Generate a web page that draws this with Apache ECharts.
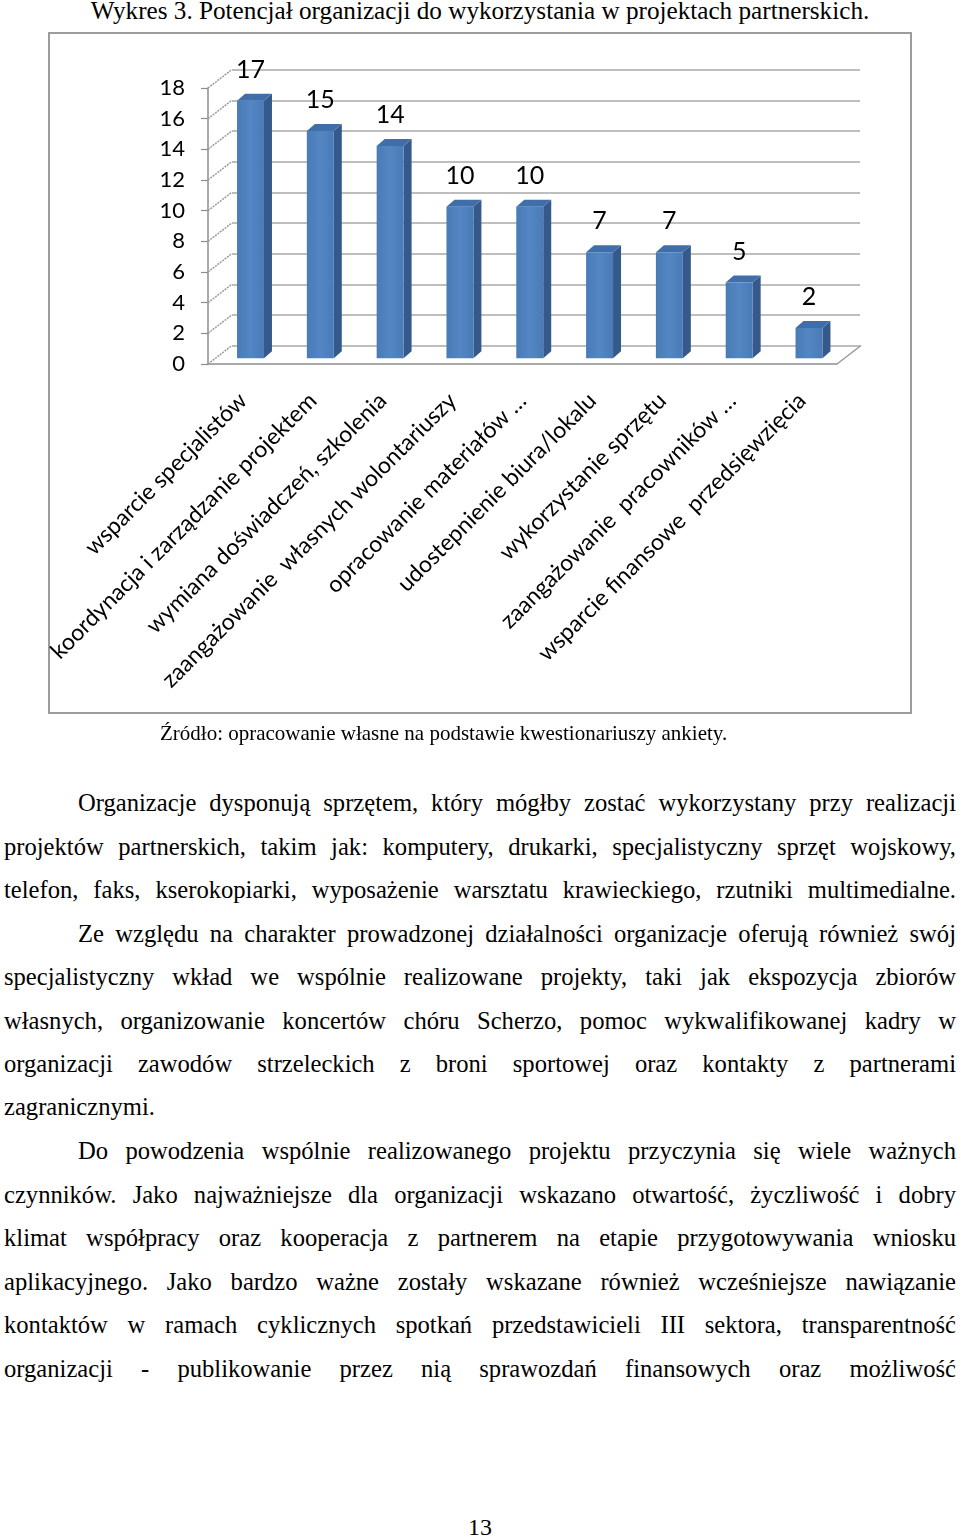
<!DOCTYPE html>
<html lang="pl">
<head>
<meta charset="utf-8">
<script src="https://cdn.jsdelivr.net/npm/echarts/dist/echarts.min.js"></script>
<style>
  html, body { margin: 0; padding: 0; background: #fff; }
  body { width: 960px; height: 1537px; position: relative; overflow: hidden; font-family: "Liberation Serif", "Times New Roman", serif; color: #000; }
  .t { position: absolute; white-space: nowrap; line-height: 30px; }
  .j { position: absolute; line-height: 30px; text-align: justify; text-align-last: justify; font-size: 24.6px; }
  .box { position: absolute; left: 48px; top: 32px; width: 864px; height: 682px; box-sizing: border-box; border: 2px solid #9c9c9c; }
  #chart { position: absolute; left: 0; top: 0; width: 960px; height: 720px; }
</style>
</head>
<body>
<div class="t" id="title" style="left:0; width:960px; top:-4px; text-align:center; font-size:25.2px;">Wykres 3. Potencjał organizacji do wykorzystania w projektach partnerskich.</div>
<div class="box"></div>
<div id="chart"></div>
<div class="t" style="left:160px; top:718px; font-size:21px;">Źródło: opracowanie własne na podstawie kwestionariuszy ankiety.</div>
<div id="text"></div>
<div class="t" style="left:0; width:960px; text-align:center; top:1512px; font-size:24px;">13</div>

<script>
// ---- chart data ----
const categories = [
  'wsparcie specjalistów',
  'koordynacja i zarządzanie projektem',
  'wymiana doświadczeń, szkolenia',
  'zaangażowanie  własnych wolontariuszy',
  'opracowanie materiałów …',
  'udostepnienie biura/lokalu',
  'wykorzystanie sprzętu',
  'zaangażowanie  pracowników …',
  'wsparcie finansowe  przedsięwzięcia'
];
const values = [17, 15, 14, 10, 10, 7, 7, 5, 2];
const yTicks = [0, 2, 4, 6, 8, 10, 12, 14, 16, 18];

// ---- body text lines ----
const textLines = [
  { s: 'Organizacje dysponują sprzętem, który mógłby zostać wykorzystany przy realizacji', indent: true },
  { s: 'projektów partnerskich, takim jak: komputery, drukarki, specjalistyczny sprzęt wojskowy,' },
  { s: 'telefon, faks, kserokopiarki, wyposażenie warsztatu krawieckiego, rzutniki multimedialne.' },
  { s: 'Ze względu na charakter prowadzonej działalności organizacje oferują również swój', indent: true },
  { s: 'specjalistyczny wkład we wspólnie realizowane projekty, taki jak ekspozycja zbiorów' },
  { s: 'własnych, organizowanie koncertów chóru Scherzo, pomoc wykwalifikowanej kadry w' },
  { s: 'organizacji zawodów strzeleckich z broni sportowej oraz kontakty z partnerami' },
  { s: 'zagranicznymi.', last: true },
  { s: 'Do powodzenia wspólnie realizowanego projektu przyczynia się wiele ważnych', indent: true },
  { s: 'czynników. Jako najważniejsze dla organizacji wskazano otwartość, życzliwość i dobry' },
  { s: 'klimat współpracy oraz kooperacja z partnerem na etapie przygotowywania wniosku' },
  { s: 'aplikacyjnego. Jako bardzo ważne zostały wskazane również wcześniejsze nawiązanie' },
  { s: 'kontaktów w ramach cyklicznych spotkań przedstawicieli III sektora, transparentność' },
  { s: 'organizacji - publikowanie przez nią sprawozdań finansowych oraz możliwość' }
];
const lineCenters = [803, 847, 890, 934, 977, 1021, 1064, 1107, 1151, 1195, 1238, 1282, 1325, 1369];

const textHost = document.getElementById('text');
textLines.forEach((ln, i) => {
  const d = document.createElement('div');
  d.className = 'j';
  const left = ln.indent ? 78 : 4;
  d.style.left = left + 'px';
  d.style.width = (956 - left) + 'px';
  d.style.top = (lineCenters[i] - 15) + 'px';
  if (ln.last) { d.style.textAlignLast = 'left'; }
  d.textContent = ln.s;
  textHost.appendChild(d);
  // keep each reference line on one line: tighten if it would wrap
  let ls = 0;
  while (d.offsetHeight > 32 && ls > -1.5) { ls -= 0.1; d.style.letterSpacing = ls + 'px'; }
});

// ---- chart ----
const FONT = 'Lato';
const chart = echarts.init(document.getElementById('chart'), null, { renderer: 'canvas' });
const DEPTH_X = 24, DEPTH_Y = 18.5;

const option = {
  animation: false,
  grid: [
    { left: 232, top: 70, width: 628, height: 275.5 },
    { left: 208, top: 88, width: 629, height: 276 },
    { left: 215.6, top: 85.5, width: 628.3, height: 272.8 }
  ],
  xAxis: [
    { gridIndex: 0, type: 'category', data: categories, show: false },
    {
      gridIndex: 1, type: 'category', data: categories,
      axisLine: { lineStyle: { color: '#8e8e8e', width: 1.5 } },
      axisTick: { length: 7, lineStyle: { color: '#8e8e8e', width: 1.2 } },
      axisLabel: { interval: 0, rotate: 45, fontFamily: FONT, fontSize: 23, color: '#000', margin: 33 }
    },
    { gridIndex: 2, type: 'category', data: categories, show: false }
  ],
  yAxis: [
    {
      gridIndex: 0, type: 'value', min: 0, max: 18, interval: 2,
      axisLabel: { show: false }, axisLine: { show: false }, axisTick: { show: false },
      splitLine: { lineStyle: { color: '#a9a9a9', width: 1.6 } }
    },
    {
      gridIndex: 1, type: 'value', min: 0, max: 18, interval: 2,
      axisLine: { show: true, lineStyle: { color: '#8e8e8e', width: 1.5 } },
      axisTick: { show: true, length: 7, lineStyle: { color: '#8e8e8e', width: 1.2 } },
      axisLabel: { fontFamily: FONT, fontSize: 22, color: '#000', margin: 23, padding: [6, 0, 0, 0] },
      splitLine: { show: false }
    },
    { gridIndex: 2, type: 'value', min: 0, max: 18, interval: 2, show: false, splitLine: { show: false } }
  ],
  series: [
    {
      type: 'custom', name: 'sideWall', xAxisIndex: 1, yAxisIndex: 1, silent: true, z: 1,
      data: yTicks.map(v => [0, v]),
      renderItem(params, api) {
        const v = api.value(1);
        const p = api.coord([0, v]);
        const half = api.size([1, 0])[0] / 2;
        const x = p[0] - half, y = p[1];
        const st = { stroke: '#9a9a9a', lineWidth: 1.5, lineDash: [2, 1] };
        const children = [{ type: 'line', shape: { x1: x, y1: y, x2: x + DEPTH_X, y2: y - DEPTH_Y }, style: st }];
        if (v === 0) {
          const xr = api.coord([categories.length - 1, 0])[0] + half;
          children.push({ type: 'line', shape: { x1: xr, y1: y, x2: xr + DEPTH_X, y2: y - DEPTH_Y }, style: { stroke: '#9a9a9a', lineWidth: 1.5 } });
        }
        return { type: 'group', children };
      }
    },
    {
      type: 'custom', name: 'bars', xAxisIndex: 2, yAxisIndex: 2, silent: true, z: 5,
      data: values.map((v, i) => [i, v]),
      renderItem(params, api) {
        const i = api.value(0), v = api.value(1);
        const top = api.coord([i, v]);
        const base = api.coord([i, 0]);
        const bw = api.size([1, 0])[0] * 0.386;
        const dx = 8, dy = 7;
        const x0 = top[0] - bw / 2, x1 = top[0] + bw / 2;
        const yt = top[1], yb = base[1];
        return {
          type: 'group',
          children: [
            { type: 'polygon', shape: { points: [[x1, yt], [x1 + dx, yt - dy], [x1 + dx, yb - dy], [x1, yb]] }, style: { fill: '#34598a' } },
            { type: 'polygon', shape: { points: [[x0, yt], [x0 + dx, yt - dy], [x1 + dx, yt - dy], [x1, yt]] }, style: { fill: '#3f6ea8' } },
            { type: 'rect', shape: { x: x0, y: yt, width: bw, height: yb - yt },
              style: { fill: new echarts.graphic.LinearGradient(0, 0, 1, 0, [
                { offset: 0, color: '#4a7bb7' }, { offset: 0.5, color: '#5386c3' }, { offset: 1, color: '#4a7bb7' }]) } },
            { type: 'text', style: { text: String(v), x: top[0], y: yt - 31, align: 'center', verticalAlign: 'middle',
              fontFamily: FONT, fontSize: 25, fill: '#000' } }
          ]
        };
      }
    }
  ]
};
chart.setOption(option);
</script>
</body>
</html>
